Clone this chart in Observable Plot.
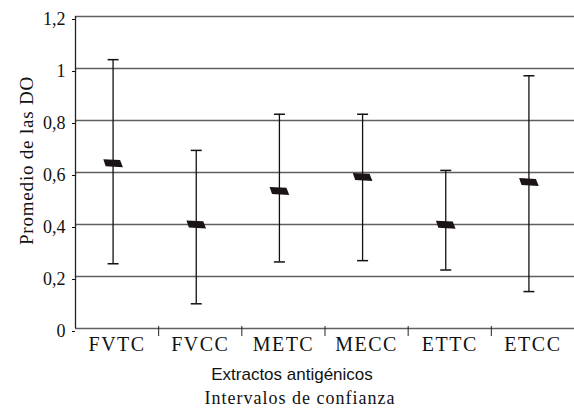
<!DOCTYPE html>
<html>
<head>
<meta charset="utf-8">
<script src="https://cdn.jsdelivr.net/npm/d3@7"></script>
<script src="https://cdn.jsdelivr.net/npm/@observablehq/plot@0.6"></script>
<style>
  html, body { margin: 0; padding: 0; background: #fff; }
  #chart { width: 574px; height: 408px; }
</style>
</head>
<body>
<div id="chart"></div>
<script>
const categories = ["FVTC", "FVCC", "METC", "MECC", "ETTC", "ETCC"];
const means = [0.636, 0.400, 0.529, 0.583, 0.399, 0.563];
const lower = [0.249, 0.095, 0.256, 0.261, 0.225, 0.142];
const upper = [1.034, 0.685, 0.824, 0.824, 0.608, 0.972];
const yTicks = [0, 0.2, 0.4, 0.6, 0.8, 1, 1.2];
const yTitle = "Promedio de las DO";
const xTitle = "Extractos antigénicos";
const xSubtitle = "Intervalos de confianza";

const rows = categories.map((c, i) => ({cat: c, pos: i + 0.5, mean: means[i], lo: lower[i], hi: upper[i]}));
const boundaries = d3.range(1, categories.length);

const capSymbol = {draw(ctx) { ctx.moveTo(-5.5, 0); ctx.lineTo(5.5, 0); }};
const meanSymbol = {draw(ctx) {
  ctx.moveTo(-9.8, -4); ctx.lineTo(7, -3.2); ctx.lineTo(9.8, 4); ctx.lineTo(-7.4, 3); ctx.closePath();
}};
const fmt = d => String(d).replace(".", ",");

const chart = Plot.plot({
  width: 574, height: 408,
  marginLeft: 75, marginRight: 0, marginTop: 16, marginBottom: 80,
  style: {background: "#fff", color: "#111"},
  x: {domain: [0, categories.length], axis: null},
  y: {domain: [0, 1.2], axis: null},
  marks: [
    Plot.gridY(yTicks, {stroke: "#5f5f5f", strokeOpacity: 1, strokeWidth: 1.7}),
    Plot.ruleX([0], {stroke: "#222", strokeWidth: 1.3}),
    Plot.axisY(yTicks, {tickSize: 3, tickPadding: 7, tickFormat: fmt, fontSize: 18, dy: 3, label: null}),
    Plot.axisX(boundaries, {tickSize: 10, dy: -2, tickFormat: () => "", stroke: "#222", label: null}),
    Plot.axisX(rows.map(d => d.pos), {tickSize: 0, tickPadding: 8, tickFormat: d => categories[Math.floor(d)], fontSize: 20, label: null}),
    Plot.ruleX(rows, {x: "pos", y1: "lo", y2: "hi", stroke: "#111", strokeWidth: 1.3, dx: -4}),
    Plot.dot(rows, {x: "pos", y: "hi", symbol: capSymbol, fill: "none", stroke: "#111", strokeWidth: 1.5, dx: -4}),
    Plot.dot(rows, {x: "pos", y: "lo", symbol: capSymbol, fill: "none", stroke: "#111", strokeWidth: 1.5, dx: -4}),
    Plot.dot(rows, {x: "pos", y: "mean", symbol: meanSymbol, fill: "#1a1414", stroke: "none", dx: -4}),
    Plot.text([yTitle], {frameAnchor: "left", textAnchor: "middle", lineAnchor: "middle", rotate: -90, dx: -49, dy: -12, fontSize: 19}),
    Plot.text([xTitle], {frameAnchor: "bottom", textAnchor: "middle", lineAnchor: "middle", dx: -33, dy: 46, fontSize: 17}),
    Plot.text([xSubtitle], {frameAnchor: "bottom", textAnchor: "middle", lineAnchor: "middle", dx: -25, dy: 70, fontSize: 18})
  ]
});

d3.select(chart).selectAll("text").each(function() {
  const t = this.textContent;
  this.style.fontFamily = t === xTitle ? "'Liberation Sans'" : "'Liberation Serif'";
  this.style.fill = "#111";
  if (categories.includes(t)) this.style.letterSpacing = "1.5px";
  if (t === yTitle) this.style.letterSpacing = "0.8px";
  if (t === xSubtitle) this.style.letterSpacing = "1px";
});
document.getElementById("chart").appendChild(chart);
</script>
</body>
</html>
